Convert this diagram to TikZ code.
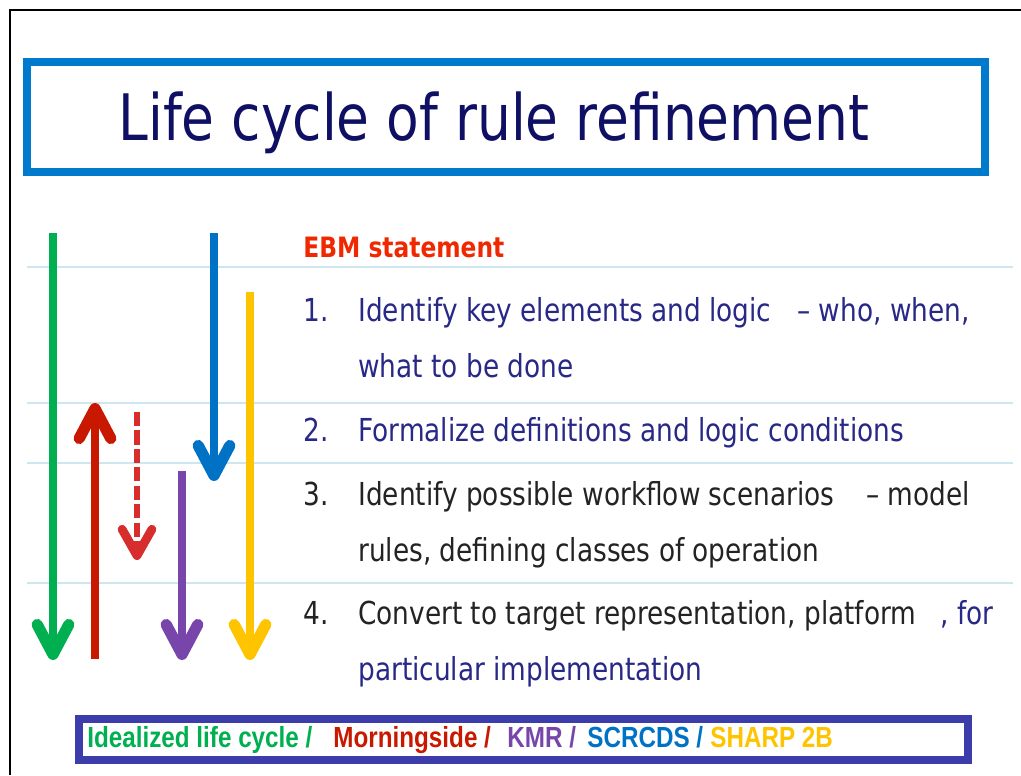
\documentclass[tikz,border=0pt]{standalone}
\usepackage{fontspec}
\setmainfont{DejaVu Sans}
\newfontfamily\legendfont{Liberation Sans}
\usetikzlibrary{arrows.meta}
\definecolor{lcgreen}{RGB}{0,176,80}
\definecolor{lcred}{RGB}{200,25,0}
\definecolor{lcdash}{RGB}{215,45,45}
\definecolor{lcpurple}{RGB}{120,70,170}
\definecolor{lcblue}{RGB}{0,114,198}
\definecolor{lcyellow}{RGB}{255,196,0}
\definecolor{titleframe}{RGB}{0,122,204}
\definecolor{legendframe}{RGB}{60,60,170}
\definecolor{rulecol}{RGB}{205,230,240}
\definecolor{titletext}{RGB}{15,15,100}
\definecolor{navytext}{RGB}{40,40,135}
\definecolor{darktext}{RGB}{35,35,35}
\definecolor{ebmred}{RGB}{240,40,0}
\newcommand{\tallbox}[1]{\scalebox{1}[1.2]{#1}}
\tikzset{%
  rule/.style={draw=rulecol, line width=1.1pt},
  lifearrow/.style={line width=5.1pt, -{Straight Barb[length=17pt,width=18pt,line width=6.4pt,round]}},
  framebox/.style={draw, rectangle, inner sep=0pt, line width=4.6pt},
  textline/.style={anchor=base west, inner sep=0pt, font=\fontsize{15}{18}\selectfont},
  legend/.style={anchor=base west, inner sep=0pt, font=\legendfont\bfseries\fontsize{13.8}{16}\selectfont}
}

\begin{document}
\begin{tikzpicture}[x=0.02cm, y=-0.02cm]
  \useasboundingbox (0,0) rectangle (1021,775);
  \draw[line width=1.2pt] (10,775) -- (10,10) -- (1021,10);

  % title
  \node[framebox, draw=titleframe, minimum width=19.15cm, minimum height=2.2cm] (titlebox) at (506,117) {};
  \node[anchor=base, inner sep=0pt, text=titletext, font=\fontsize{30.4}{34}\selectfont] (title) at (494,140) {\tallbox{Life cycle of rule refinement}};

  % rules between the steps
  \foreach \y in {267,403,463,583}
    \draw[rule] (27,\y) -- (1013,\y);

  % life cycles
  \foreach \col/\x/\from/\to in {lcgreen/53/233/660, lcred/95/659/403, lcpurple/182/471/660, lcblue/214/233/481, lcyellow/250/292/660}
    \draw[lifearrow, \col] (\x,\from) -- (\x,\to);
  \draw[lcdash, line width=3pt, dash pattern=on 8pt off 2.5pt, -{Straight Barb[length=15pt,width=17pt,line width=5pt,round]}] (137,412) -- (137,560);

  % steps
  \node[textline, text=ebmred, font=\bfseries\fontsize{13.3}{16}\selectfont] (ebm) at (303,257) {\tallbox{EBM statement}};
  \node[textline, text=navytext] (n1) at (303,321) {\tallbox{1.}};
  \node[textline, text=navytext] (s1a) at (358,321) {\tallbox{Identify key elements and logic}};
  \node[textline, text=navytext] (s1b) at (797,321) {\tallbox{– who, when,}};
  \node[textline, text=navytext] (s1c) at (358,377) {\tallbox{what to be done}};
  \node[textline, text=navytext] (n2) at (303,441) {\tallbox{2.}};
  \node[textline, text=navytext] (s2) at (358,441) {\tallbox{Formalize definitions and logic conditions}};
  \node[textline, text=darktext] (n3) at (303,505) {\tallbox{3.}};
  \node[textline, text=darktext] (s3a) at (358,505) {\tallbox{Identify possible workflow scenarios}};
  \node[textline, text=darktext] (s3b) at (866,505) {\tallbox{– model}};
  \node[textline, text=darktext] (s3c) at (358,561) {\tallbox{rules, defining classes of operation}};
  \node[textline, text=darktext] (n4) at (303,624) {\tallbox{4.}};
  \node[textline, text=darktext] (s4a) at (358,624) {\tallbox{Convert to target representation, platform}};
  \node[textline, text=navytext] (s4b) at (940,624) {\tallbox{, for}};
  \node[textline, text=navytext] (s4c) at (358,680) {\tallbox{particular implementation}};

  % legend
  \node[framebox, draw=legendframe, minimum width=17.78cm, minimum height=0.82cm] (legendbox) at (523.5,739.5) {};
  \node[legend, text=lcgreen] (lgreen) at (87,747) {\tallbox{Idealized life cycle /}};
  \node[legend, text=lcred] (lred) at (333,747) {\tallbox{Morningside /}};
  \node[legend, text=lcpurple] (lpurple) at (507,747) {\tallbox{KMR /}};
  \node[legend, text=lcblue] (lblue) at (587,747) {\tallbox{SCRCDS /}};
  \node[legend, text=lcyellow] (lyellow) at (710,747) {\tallbox{SHARP 2B}};
\end{tikzpicture}
\end{document}
